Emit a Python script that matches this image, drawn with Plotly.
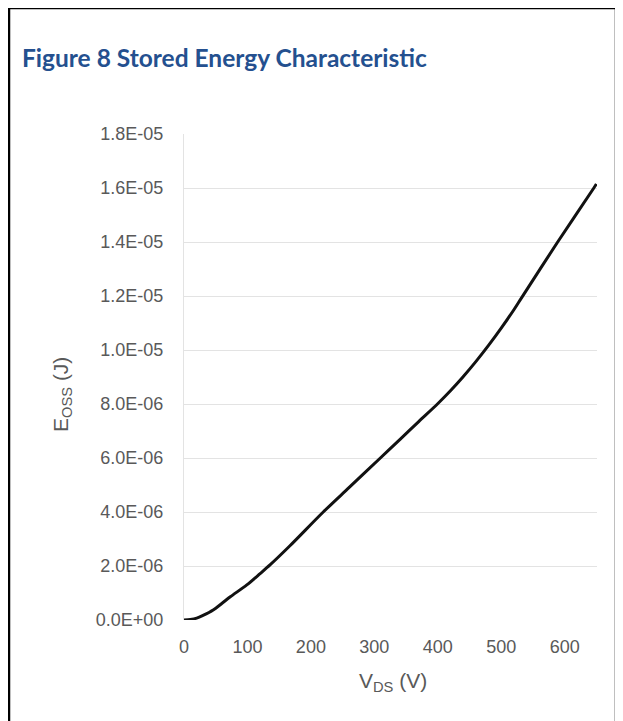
import plotly.graph_objects as go

# Data (V_DS in volts, E_OSS in joules)
vds = [0, 10, 20, 30, 46, 60, 73, 99, 120, 136, 167, 219.5, 260, 309.5, 341, 370, 399.5,
       420, 440, 460, 480, 500, 520, 532, 589, 646, 650]
eoss_uj = [0, 0.02, 0.07, 0.17, 0.37, 0.62, 0.86, 1.3, 1.72, 2.05, 2.75, 4.0, 4.9, 6.0, 6.7, 7.35, 8.0,
           8.49, 9.01, 9.57, 10.17, 10.81, 11.49, 11.93, 14.0, 16.0, 16.15]
eoss = [v * 1e-6 for v in eoss_uj]

x_ticks = [0, 100, 200, 300, 400, 500, 600]
y_tickvals = [0, 2e-6, 4e-6, 6e-6, 8e-6, 1.0e-5, 1.2e-5, 1.4e-5, 1.6e-5, 1.8e-5]
y_ticktext = ["0.0E+00", "2.0E-06", "4.0E-06", "6.0E-06", "8.0E-06",
              "1.0E-05", "1.2E-05", "1.4E-05", "1.6E-05", "1.8E-05"]

title_text = "Figure 8 Stored Energy Characteristic"
x_title = "V<sub>DS</sub> (V)"
y_title = "E<sub>OSS</sub> (J)"

OFF = 8  # page body margin offset
W, H = 623 - OFF, 721 - OFF
# plot area in screen pixels, converted to figure pixels
L, R, T, B = 184 - OFF, 597 - OFF, 134 - OFF, 620 - OFF
pw, ph = R - L, B - T

def px(x):  # screen x -> paper
    return (x - OFF - L) / pw

def py(y):  # screen y -> paper
    return (B - (y - OFF)) / ph

fig = go.Figure()
fig.add_trace(go.Scatter(x=vds, y=eoss, mode="lines",
                         line=dict(color="#111111", width=3, shape="spline", smoothing=0.8),
                         showlegend=False, hoverinfo="skip"))

tickfont = dict(family="Liberation Sans, Arial, sans-serif", size=18, color="#595959")

fig.update_layout(
    width=W, height=H,
    margin=dict(l=L, r=W - R, t=T, b=H - B, pad=0),
    paper_bgcolor="white", plot_bgcolor="white",
    xaxis=dict(range=[0, 651], tickvals=x_ticks, showgrid=False, zeroline=False,
               showline=False, ticks="", tickfont=tickfont, ticklabelstandoff=14),
    yaxis=dict(range=[0, 1.8e-5], tickvals=y_tickvals, ticktext=y_ticktext,
               showgrid=True, gridcolor="#e3e3e3", gridwidth=1.3, zeroline=False,
               showline=True, linecolor="#e3e3e3", linewidth=1.3,
               ticks="", tickfont=tickfont, ticklabelstandoff=16),
    shapes=[dict(type="rect", xref="paper", yref="paper",
                 x0=px(9), x1=px(616), y0=py(740), y1=py(8),
                 line=dict(color="black", width=2.5), fillcolor="rgba(0,0,0,0)", layer="above")],
    annotations=[
        dict(text="<b>" + title_text + "</b>", xref="paper", yref="paper",
             x=px(20), y=py(57), xanchor="left", yanchor="middle", showarrow=False,
             font=dict(family="Lato, Open Sans, sans-serif", size=24.5, color="#24508F")),
        dict(text=x_title, xref="paper", yref="paper", x=px(393), y=py(682),
             xanchor="center", yanchor="middle", showarrow=False,
             font=dict(family="Liberation Sans, Arial, sans-serif", size=21, color="#595959")),
        dict(text=y_title, xref="paper", yref="paper", x=px(62), y=py(395),
             xanchor="center", yanchor="middle", showarrow=False, textangle=-90,
             font=dict(family="Liberation Sans, Arial, sans-serif", size=21, color="#595959")),
    ],
)

fig.write_html("out.html")
